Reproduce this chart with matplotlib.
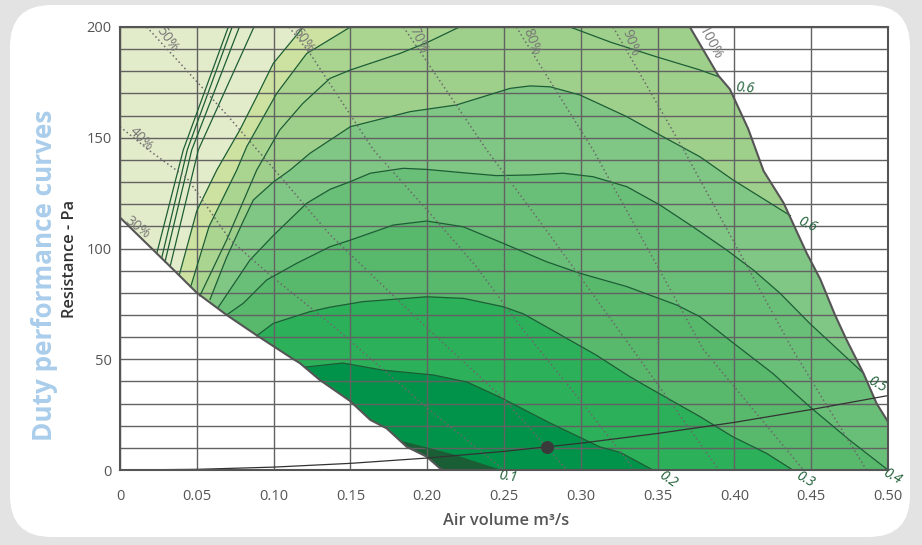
import matplotlib
matplotlib.use('Agg')
import matplotlib.pyplot as plt
from matplotlib.patches import Polygon, FancyBboxPatch

plt.rcParams['font.family'] = ['Open Sans', 'DejaVu Sans']

# ---------------- data ----------------
x_ticks = [0, 0.05, 0.10, 0.15, 0.20, 0.25, 0.30, 0.35, 0.40, 0.45, 0.50]
x_tick_labels = ['0', '0.05', '0.10', '0.15', '0.20', '0.25', '0.30', '0.35', '0.40', '0.45', '0.50']
y_ticks = [0, 50, 100, 150, 200]

# operating envelope (30% line lower-left, 100% line right)
env_x = [0, 0, 0.0369, 0.05, 0.0694, 0.089, 0.1118, 0.117, 0.130, 0.1497, 0.163, 0.1736,
         0.1866, 0.1997, 0.2083, 0.2105, 0.5, 0.5, 0.4926, 0.484, 0.473, 0.4655, 0.456,
         0.447, 0.436, 0.432, 0.419, 0.409, 0.397, 0.3896, 0.371]
env_y = [200, 114, 89, 80, 70, 60.8, 50.5, 48.3, 40.7, 31.2, 22.6, 18.8,
         10.5, 6, 0.75, 0, 0, 21.8, 30, 43.7, 58.8, 70, 86,
         98, 114.6, 120.6, 135, 154, 172, 178, 200]

# thin speed lines (no band change)
thin1_x = [0.0239, 0.0412, 0.0705]; thin1_y = [97.7, 144.5, 200]
thin2_x = [0.0271, 0.0438, 0.0730]; thin2_y = [95.6, 144.5, 200]
thin3_x = [0.0293, 0.0467, 0.0777]; thin3_y = [94.0, 144.5, 200]
thin4_x = [0.0326, 0.0510, 0.0872]; thin4_y = [91.8, 144.5, 200]

# band boundary lines (outer -> inner)
lineA_x = [0.0385, 0.05, 0.063, 0.078, 0.089, 0.0998, 0.1193]
lineA_y = [87.8, 117, 135.4, 153.5, 168.5, 183.6, 200]
lineB_x = [0.046, 0.058, 0.076, 0.0825, 0.102, 0.1215, 0.15]
lineB_y = [82.7, 110, 135.4, 146, 170, 188, 200]
lineC_x = [0.052, 0.0694, 0.089, 0.104, 0.119, 0.1367, 0.15, 0.182, 0.2, 0.221]
lineC_y = [78.6, 103.8, 135.4, 153.5, 165.5, 176.8, 180.6, 188, 193, 200]
c6_x = [0.0586, 0.0694, 0.08, 0.0868, 0.0998, 0.1107, 0.1237, 0.15, 0.189, 0.219, 0.254,
        0.267, 0.28, 0.2995, 0.33, 0.3516, 0.3776, 0.399, 0.4365]
c6_y = [77, 96, 112, 121.9, 130, 135.4, 143, 155, 161.8, 164.8, 172.3,
        173.4, 173, 169.3, 159.5, 151.2, 141.4, 131, 114.8]
c5_x = [0.064, 0.0846, 0.1, 0.1215, 0.1367, 0.15, 0.163, 0.1844, 0.1997, 0.2235, 0.245,
        0.267, 0.2886, 0.308, 0.33, 0.3516, 0.373, 0.395, 0.4123, 0.4297, 0.449, 0.484]
c5_y = [73.5, 94.8, 106, 120.4, 126.7, 130.2, 134, 136.2, 135.7, 134.2, 132.9,
        133.2, 134, 132.4, 127.9, 119.6, 109.8, 99.3, 90.3, 79.8, 66.2, 43.7]
c4_x = [0.0694, 0.0803, 0.0955, 0.115, 0.1367, 0.15, 0.178, 0.1997, 0.2235, 0.2496, 0.2778,
        0.2995, 0.33, 0.3624, 0.3776, 0.399, 0.425, 0.449, 0.475, 0.5]
c4_y = [70, 75.3, 85.8, 93.3, 100.8, 103.8, 110.6, 112.4, 109.8, 102.3, 94,
        88.8, 82.8, 74.5, 69.2, 57.5, 43.6, 28.6, 13.5, 0]
c3_x = [0.089, 0.0998, 0.1237, 0.1367, 0.158, 0.1997, 0.2235, 0.2496, 0.2626, 0.2843, 0.310,
        0.332, 0.347, 0.3776, 0.399, 0.421, 0.438]
c3_y = [60.6, 66.2, 71.5, 73.5, 76, 78.2, 77.5, 73.7, 70.5, 62, 51.9,
        42.1, 36.1, 24.1, 15, 7.5, 0]
c2_x = [0.121, 0.145, 0.171, 0.204, 0.226, 0.247, 0.28, 0.3125, 0.3255, 0.347]
c2_y = [46.5, 48.3, 45.1, 42.9, 39.7, 33, 21.2, 10.4, 8, 0]
c1_x = [0.1834, 0.202, 0.217, 0.247]
c1_y = [12.8, 9.5, 6.8, 0]
# top-right line (no band change)
tr_x = [0.293, 0.32, 0.349, 0.3776, 0.3896]
tr_y = [200, 193, 186.6, 180.6, 177.6]

# efficiency (dotted) lines
eff40_x = [0, 0.0195, 0.0434, 0.0716, 0.0977, 0.1367, 0.2018, 0.25]
eff40_y = [155, 144, 132, 104, 88, 66.2, 27, 0]
eff50_x = [0.0174, 0.04, 0.07, 0.1, 0.137, 0.2, 0.25, 0.291]
eff50_y = [200, 183, 160, 136, 106, 64, 32, 0]
eff60_x = [0.11, 0.1237, 0.145, 0.165, 0.2018, 0.232, 0.2626, 0.2995, 0.335]
eff60_y = [200, 188, 165.6, 144.5, 115.9, 91.8, 63.2, 31.6, 0]
eff70_x = [0.1845, 0.2387, 0.271, 0.2995, 0.334, 0.39]
eff70_y = [200, 144.5, 114.4, 87.3, 54.2, 0]
eff80_x = [0.258, 0.308, 0.38, 0.445]
eff80_y = [200, 144.5, 54.2, 0]
eff90_x = [0.321, 0.367, 0.438, 0.486]
eff90_y = [200, 144.5, 54.2, 0]

eff_labels = ['30%', '40%', '50%', '60%', '70%', '80%', '90%', '100%']
eff_label_x = [0.0111, 0.0135, 0.0306, 0.119, 0.194, 0.268, 0.332, 0.384]
eff_label_y = [109.3, 149.5, 194.5, 194.1, 194.1, 193.2, 192.8, 192.8]
eff_label_rot = [-38, -45, -55, -55, -65, -70, -70, -62]

pow_labels = ['0.6', '0.6', '0.5', '0.4', '0.3', '0.2', '0.1']
pow_label_x = [0.407, 0.4473, 0.4928, 0.5026, 0.4460, 0.3568, 0.2526]
pow_label_y = [172.4, 110.6, 38.4, -3.2, -4.5, -4.5, -3.2]
pow_label_rot = [-5, -25, -30, -30, -30, -35, -8]

# system curve and duty point
sys_x = [0, 0.05, 0.1, 0.15, 0.2, 0.25, 0.3, 0.35, 0.4, 0.45, 0.5]
sys_y = [0, 0.3, 1.3, 3.0, 5.4, 8.4, 12.1, 16.5, 21.5, 27.3, 33.6]
duty_x = [0.278]
duty_y = [10.4]

band_colors = ['#e3ecca', '#cde2a0', '#a9d591', '#9fd08b', '#80c684',
               '#6abf78', '#58b86c', '#2cb05a', '#02934a', '#1a5e36']

# ---------------- figure ----------------
W, H = 922, 545
fig = plt.figure(figsize=(W / 100, H / 100), dpi=100, facecolor='#e3e3e3')
card = FancyBboxPatch((10 / W, (H - 537) / H), (910 - 10) / W, (537 - 5) / H,
                      boxstyle='round,pad=0,rounding_size=0.045',
                      transform=fig.transFigure, facecolor='white', edgecolor='none',
                      mutation_aspect=W / H, zorder=-10)
fig.patches.append(card)

ax = fig.add_axes([120 / W, (H - 470) / H, 768 / W, 443 / H])
ax.set_zorder(1)
ax.set_xlim(0, 0.5)
ax.set_ylim(0, 200)
ax.set_facecolor('white')

env = Polygon(list(zip(env_x, env_y)), closed=True, facecolor=band_colors[0],
              edgecolor='none', zorder=1)
ax.add_patch(env)

BIG = 260
LOW = -60
RIGHT = 0.7


def band_poly(xs, ys, kind):
    pts = list(zip(xs, ys))
    if kind == 'top':
        pts += [(xs[-1], BIG), (RIGHT, BIG), (RIGHT, LOW), (xs[0], LOW)]
    elif kind == 'right':
        pts += [(RIGHT, ys[-1]), (RIGHT, LOW), (xs[0], LOW)]
    else:
        pts += [(xs[-1], LOW), (xs[0], LOW)]
    return pts


bands = [(lineA_x, lineA_y, 'top'), (lineB_x, lineB_y, 'top'), (lineC_x, lineC_y, 'top'),
         (c6_x, c6_y, 'right'), (c5_x, c5_y, 'right'), (c4_x, c4_y, 'bottom'),
         (c3_x, c3_y, 'bottom'), (c2_x, c2_y, 'bottom'), (c1_x, c1_y, 'bottom')]
for i, (bx, by, kind) in enumerate(bands):
    p = Polygon(band_poly(bx, by, kind), closed=True, facecolor=band_colors[i + 1],
                edgecolor='none', zorder=1 + 0.01 * (i + 1))
    ax.add_patch(p)
    p.set_clip_path(env)

# grid
ax.set_xticks(x_ticks)
ax.set_xticklabels(x_tick_labels)
ax.set_yticks(y_ticks)
ax.set_yticks(range(0, 201, 10), minor=True)
ax.grid(True, which='both', color='#626262', linewidth=1.0)
ax.set_axisbelow(False)
ax.tick_params(which='both', length=0)
ax.tick_params(axis='x', pad=14, labelsize=10.5, labelcolor='#555555')
ax.tick_params(axis='y', pad=6, labelsize=10.5, labelcolor='#555555')
for s in ax.spines.values():
    s.set_color('#555555')
    s.set_linewidth(1.5)
    s.set_zorder(6)

green = '#1d5e36'
for lx, ly in [(thin1_x, thin1_y), (thin2_x, thin2_y), (thin3_x, thin3_y), (thin4_x, thin4_y),
               (lineA_x, lineA_y), (lineB_x, lineB_y), (lineC_x, lineC_y), (c6_x, c6_y),
               (c5_x, c5_y), (c4_x, c4_y), (c3_x, c3_y), (c2_x, c2_y), (c1_x, c1_y),
               (tr_x, tr_y)]:
    ax.plot(lx, ly, color=green, lw=0.9, zorder=3)

for lx, ly in [(eff40_x, eff40_y), (eff50_x, eff50_y), (eff60_x, eff60_y),
               (eff70_x, eff70_y), (eff80_x, eff80_y), (eff90_x, eff90_y)]:
    ax.plot(lx, ly, color='#6a6a6a', lw=1.1, ls=(0, (1, 1.8)), zorder=3)

# envelope outline (30% and 100% lines)
ax.plot(env_x[1:16], env_y[1:16], color='#555555', lw=1.5, zorder=4)
ax.plot(env_x[17:], env_y[17:], color='#555555', lw=1.5, zorder=4)

ax.plot(sys_x, sys_y, color='#333333', lw=0.9, zorder=4)
ax.scatter(duty_x, duty_y, s=70, color='#3a3a3a', zorder=5)

for t, x, y, r in zip(eff_labels, eff_label_x, eff_label_y, eff_label_rot):
    ax.text(x, y, t, rotation=r, color='#777777', fontsize=10, ha='center', va='center',
            zorder=5, rotation_mode='anchor')
for t, x, y, r in zip(pow_labels, pow_label_x, pow_label_y, pow_label_rot):
    ax.text(x, y, t, rotation=r, color='#1d5e36', fontsize=10, style='italic',
            ha='center', va='center', zorder=5, clip_on=False, rotation_mode='anchor')

fig.text(506 / W, 1 - 521 / H, 'Air volume m³/s', ha='center', va='center',
         fontsize=11.8, color='#555555', fontweight='semibold')
fig.text(70 / W, 1 - 259 / H, 'Resistance - Pa', ha='center', va='center', rotation=90,
         fontsize=11.8, color='#333333', fontweight='semibold')
fig.text(45 / W, 1 - 275 / H, 'Duty performance curves', ha='center', va='center',
         rotation=90, fontsize=18.8, color='#a9cdeb', fontweight='bold')

fig.savefig('out.png', dpi=100, facecolor=fig.get_facecolor())
